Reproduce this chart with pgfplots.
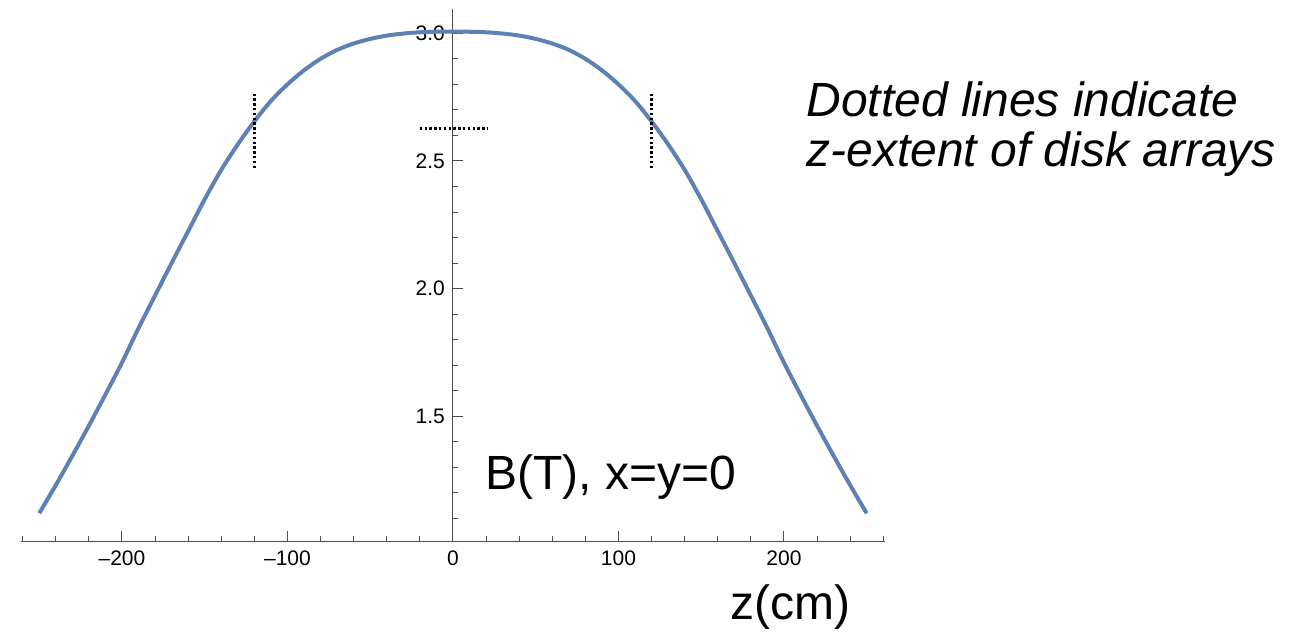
\documentclass[border=0pt]{standalone}
\usepackage{pgfplots}
\pgfplotsset{compat=1.18}
\usepackage{fontspec}
\setmainfont{Liberation Sans}
\definecolor{mmablue}{RGB}{94,129,181}
\definecolor{axgray}{gray}{0.3}

\begin{document}
\begin{tikzpicture}
\begin{axis}[
  scale only axis,
  width=431.9pt, height=266pt,
  xmin=-261, xmax=261, ymin=1.01, ymax=3.094,
  axis x line=bottom, axis y line=middle,
  axis line style={-, axgray, line width=0.5pt},
  xtick={-200,-100,0,100,200},
  xticklabels={\textendash200,\textendash100,0,100,200},
  minor xtick={-260,-240,...,260},
  ytick={1.5,2.0,2.5,3.0},
  yticklabels={1.5,2.0,2.5,3.0},
  minor ytick={1.1,1.2,1.3,1.4,1.6,1.7,1.8,1.9,2.1,2.2,2.3,2.4,2.6,2.7,2.8,2.9},
  tick style={axgray, line width=0.5pt},
  major tick length=5pt, minor tick length=2.5pt,
  tick align=inside,
  ticklabel style={font=\fontsize{10.5}{12}\selectfont},
  xticklabel style={yshift=-1.2pt},
  yticklabel style={xshift=-0.5pt},
  clip=false,
]
% field on axis
\addplot[mmablue, line width=2pt, smooth] coordinates {
  (-250,1.12) (-240,1.23) (-230,1.345) (-220,1.463) (-210,1.585)
  (-200,1.71) (-190,1.845) (-180,1.973) (-170,2.10) (-160,2.225)
  (-150,2.35) (-140,2.465) (-130,2.565) (-120,2.655) (-110,2.735)
  (-100,2.80) (-90,2.855) (-80,2.90) (-70,2.935) (-60,2.96)
  (-50,2.978) (-40,2.991) (-30,2.999) (-20,3.004) (-10,3.006)
  (0,3.007)
  (10,3.006) (20,3.004) (30,2.999) (40,2.991) (50,2.978)
  (60,2.96) (70,2.935) (80,2.90) (90,2.855) (100,2.80)
  (110,2.735) (120,2.655) (130,2.565) (140,2.465) (150,2.35)
  (160,2.225) (170,2.10) (180,1.973) (190,1.845) (200,1.71)
  (210,1.585) (220,1.463) (230,1.345) (240,1.23) (250,1.12)
};
% disk array extent
\addplot[black, line width=1.3pt, dash pattern=on 1.2pt off 1.2pt] coordinates {(-120,2.472) (-120,2.770)};
\addplot[black, line width=1.3pt, dash pattern=on 1.2pt off 1.2pt] coordinates {(120,2.472) (120,2.770)};
\addplot[black, line width=1.3pt, dash pattern=on 1.2pt off 1.2pt] coordinates {(-20,2.628) (21,2.628)};

\node[anchor=base west, inner sep=0pt, font=\fontsize{24}{28}\selectfont] at (axis cs:19.3,1.214) {B(T), x=y=0};
\node[anchor=base west, inner sep=0pt, font=\fontsize{24}{28}\selectfont] at (axis cs:167.4,0.702) {z(cm)};
\node[anchor=base west, inner sep=0pt, font=\fontsize{24}{28}\selectfont\itshape] at (axis cs:213.3,2.673) {Dotted lines indicate};
\node[anchor=base west, inner sep=0pt, font=\fontsize{24}{28}\selectfont\itshape] at (axis cs:213.3,2.4775) {z-extent of disk arrays};

\path (axis cs:-273.7,0.6557) rectangle (axis cs:510,3.1304);
\end{axis}
\end{tikzpicture}
\end{document}
